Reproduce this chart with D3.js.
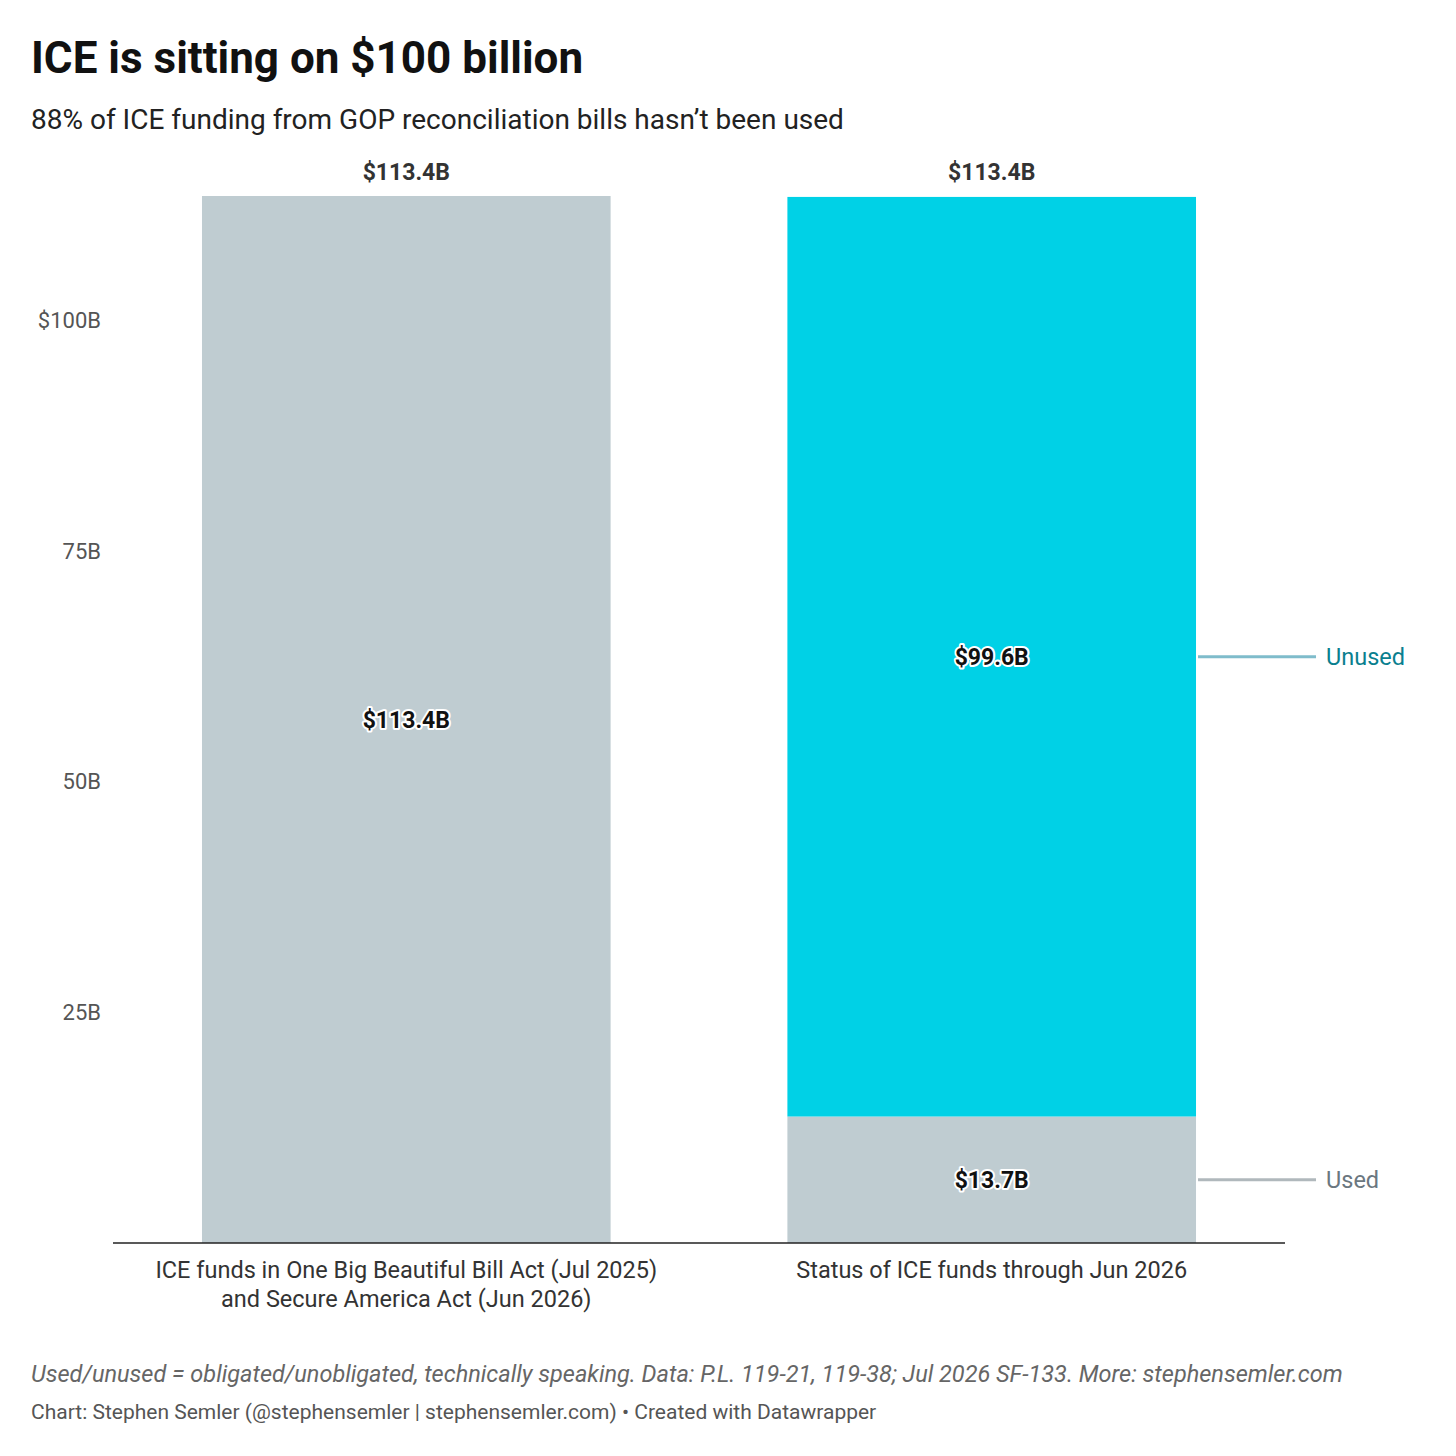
<!DOCTYPE html>
<meta charset="utf-8">
<style>
  body { margin: 0; background: #fff; font-family: Roboto, sans-serif; }
  .halo { paint-order: stroke; stroke: #fff; stroke-width: 4px; stroke-linejoin: round; }
</style>
<body>
<script src="https://d3js.org/d3.v7.min.js"></script>
<script>

// data
var categories = ["left", "right"];
var catLabels = [["ICE funds in One Big Beautiful Bill Act (Jul 2025)", "and Secure America Act (Jun 2026)"],
                 ["Status of ICE funds through Jun 2026"]];
var totalFunds = [113.4, 0];
var usedFunds = [0, 13.7];
var unusedFunds = [0, 99.6];
var totalLabels = ["$113.4B", "$113.4B"];
var yTicks = [25, 50, 75, 100];
var yTickLabels = ["25B", "50B", "75B", "$100B"];

var width = 1456, height = 1456;

var svg = d3.select("body").append("svg")
    .attr("width", width)
    .attr("height", height);

var y = d3.scaleLinear().domain([0, 113.4]).range([1243, 196]);
var x = d3.scaleBand().domain(categories).range([113, 1285]).paddingInner(0.302).paddingOuter(0.152);

// title
svg.append("text").attr("x", 31).attr("y", 73)
    .style("font-size", "44px").style("font-weight", 700).style("fill", "#111")
    .text("ICE is sitting on $100 billion");
svg.append("text").attr("x", 31).attr("y", 129)
    .style("font-size", "28px").style("fill", "#222")
    .text("88% of ICE funding from GOP reconciliation bills hasn\u2019t been used");

// y axis labels
svg.selectAll(".ytick").data(yTicks).enter().append("text")
    .attr("x", 101).attr("y", function(d) { return y(d) + 8; })
    .attr("text-anchor", "end")
    .style("font-size", "22px").style("fill", "#555")
    .text(function(d, i) { return yTickLabels[i]; });

// segments
var segs = [];
categories.forEach(function(c, i) {
  var base = 0;
  [[totalFunds[i], "#bfccd1"], [usedFunds[i], "#bfccd1"], [unusedFunds[i], "#00d1e6"]].forEach(function(s) {
    if (s[0] > 0) {
      segs.push({cat: c, y0: base, y1: base + s[0], color: s[1], v: s[0]});
      base += s[0];
    }
  });
});

svg.selectAll(".seg").data(segs).enter().append("rect")
    .attr("x", function(d) { return x(d.cat); })
    .attr("width", x.bandwidth())
    .attr("y", function(d) { return y(d.y1); })
    .attr("height", function(d) { return y(d.y0) - y(d.y1); })
    .attr("fill", function(d) { return d.color; });

svg.selectAll(".segl").data(segs).enter().append("text")
    .attr("class", "halo")
    .attr("x", function(d) { return x(d.cat) + x.bandwidth() / 2; })
    .attr("y", function(d) { return y((d.y0 + d.y1) / 2) + 8; })
    .attr("text-anchor", "middle")
    .style("font-size", "23px").style("font-weight", 700).style("fill", "#111")
    .text(function(d) { return "$" + d.v.toFixed(1) + "B"; });

// totals on top
svg.selectAll(".tot").data(categories).enter().append("text")
    .attr("x", function(d) { return x(d) + x.bandwidth() / 2; })
    .attr("y", y(113.4) - 16)
    .attr("text-anchor", "middle")
    .style("font-size", "23px").style("font-weight", 700).style("fill", "#333")
    .text(function(d, i) { return totalLabels[i]; });

// baseline
svg.append("line").attr("x1", 113).attr("x2", 1285).attr("y1", y(0)).attr("y2", y(0))
    .attr("stroke", "#222").attr("stroke-width", 1.5);

// category labels
categories.forEach(function(c, i) {
  catLabels[i].forEach(function(t, j) {
    svg.append("text")
      .attr("x", x(c) + x.bandwidth() / 2).attr("y", 1278 + j * 29)
      .attr("text-anchor", "middle")
      .style("font-size", "23.5px").style("fill", "#333")
      .text(t);
  });
});

// direct legend
var xr = x("right") + x.bandwidth();
var legend = [
  {name: "Unused", mid: usedFunds[1] + unusedFunds[1] / 2, line: "#7fbccb", col: "#0a7f8f"},
  {name: "Used", mid: usedFunds[1] / 2, line: "#b0b8bc", col: "#6b7780"}
];
legend.forEach(function(l) {
  svg.append("line").attr("x1", xr + 2).attr("x2", xr + 120)
    .attr("y1", y(l.mid)).attr("y2", y(l.mid))
    .attr("stroke", l.line).attr("stroke-width", 3);
  svg.append("text").attr("x", xr + 130).attr("y", y(l.mid) + 8)
    .style("font-size", "23.5px").style("fill", l.col).text(l.name);
});

// footer
svg.append("text").attr("x", 31).attr("y", 1382)
    .style("font-size", "23.5px").style("font-style", "italic").style("fill", "#666")
    .text("Used/unused = obligated/unobligated, technically speaking. Data: P.L. 119-21, 119-38; Jul 2026 SF-133. More: stephensemler.com");
svg.append("text").attr("x", 31).attr("y", 1419)
    .style("font-size", "21px").style("fill", "#555")
    .text("Chart: Stephen Semler (@stephensemler | stephensemler.com) \u2022 Created with Datawrapper");

</script>
</body>
